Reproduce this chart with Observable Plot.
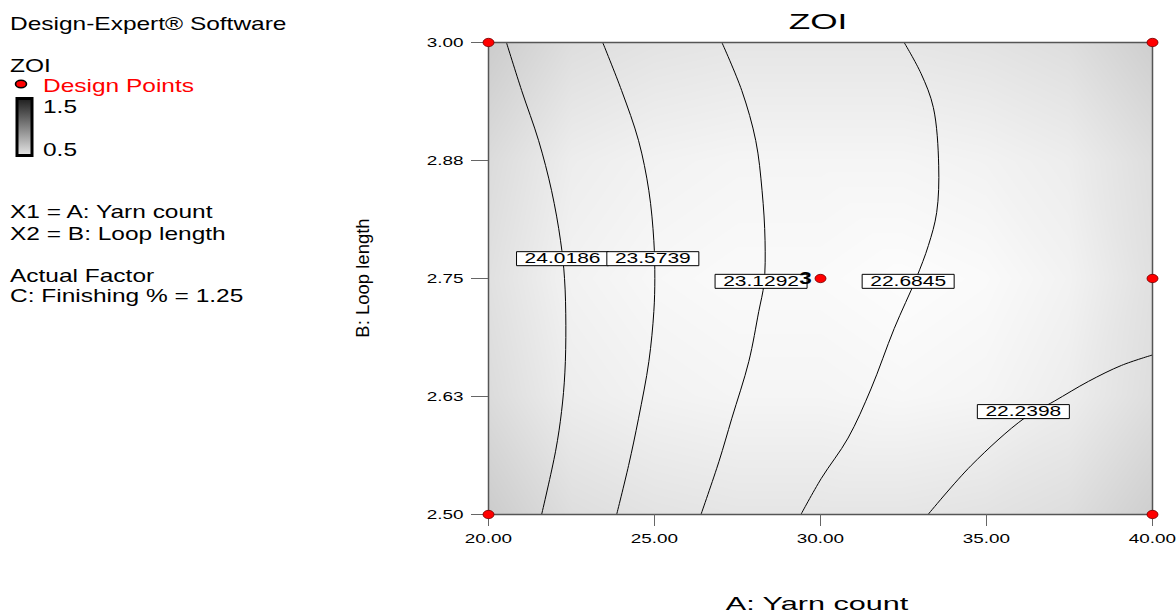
<!DOCTYPE html>
<html>
<head>
<meta charset="utf-8">
<script src="https://cdn.jsdelivr.net/npm/d3@7"></script>
<script src="https://cdn.jsdelivr.net/npm/@observablehq/plot@0.6"></script>
<style>
  html, body { margin: 0; padding: 0; background: #ffffff; }
  #chart { position: relative; width: 1176px; height: 614px; overflow: hidden; }
</style>
</head>
<body>
<div id="chart"></div>
<script>
// ---------- Data ----------
// Axis ticks
const xTicks = [20, 25, 30, 35, 40];
const xTickLabels = ["20.00", "25.00", "30.00", "35.00", "40.00"];
const yTicks = [2.5, 2.625, 2.75, 2.875, 3.0];
const yTickLabels = ["2.50", "2.63", "2.75", "2.88", "3.00"];

// Design points (A: Yarn count, B: Loop length)
const designA = [20, 20, 40, 40, 40, 30];
const designB = [2.5, 3.0, 2.5, 3.0, 2.75, 2.75];
const designReps = ["", "", "", "", "", "3"];

// Contour levels and their traced paths
const contourLevels = ["24.0186", "23.5739", "23.1292", "22.6845", "22.2398"];
const contour1A = [20.54, 21.00, 21.51, 21.90, 22.17, 22.29, 22.33, 22.30, 22.20, 22.02, 21.60];
const contour1B = [3.000, 2.949, 2.896, 2.843, 2.790, 2.750, 2.700, 2.650, 2.609, 2.567, 2.500];
const contour2A = [23.44, 24.01, 24.52, 24.83, 24.98, 25.01, 24.98, 24.83, 24.52, 24.22, 23.86];
const contour2B = [3.000, 2.949, 2.896, 2.843, 2.790, 2.750, 2.715, 2.662, 2.602, 2.552, 2.500];
const contour3A = [27.03, 27.63, 28.05, 28.24, 28.33, 28.30, 28.14, 27.84, 27.33, 26.94, 26.40];
const contour3B = [3.000, 2.949, 2.896, 2.843, 2.790, 2.745, 2.715, 2.662, 2.602, 2.556, 2.500];
const contour4A = [32.52, 33.03, 33.40, 33.56, 33.50, 33.25, 32.88, 32.22, 31.52, 30.83, 30.02, 29.41];
const contour4B = [3.000, 2.967, 2.931, 2.870, 2.820, 2.785, 2.750, 2.697, 2.633, 2.581, 2.538, 2.500];
const contour5A = [33.24, 34.54, 36.14, 37.04, 38.07, 39.07, 40.00];
const contour5B = [2.500, 2.552, 2.602, 2.620, 2.641, 2.658, 2.669];

// Contour label anchors (data units)
const labelA = [22.23, 24.95, 28.21, 32.64, 36.11];
const labelB = [2.771, 2.771, 2.747, 2.747, 2.609];

// Standard-error style shading (legend scale 0.5 .. 1.5), estimated on a grid
const shadeA = [20, 22.5, 25, 27.5, 30, 32.5, 35, 37.5, 40];
const shadeB = [2.5, 2.625, 2.75, 2.875, 3.0];
const shadeRow0 = [0.70, 0.63, 0.61, 0.60, 0.60, 0.60, 0.61, 0.63, 0.69]; // B = 2.5
const shadeRow1 = [0.64, 0.57, 0.55, 0.54, 0.54, 0.53, 0.54, 0.57, 0.63]; // B = 2.625
const shadeRow2 = [0.62, 0.55, 0.53, 0.52, 0.52, 0.51, 0.52, 0.55, 0.62]; // B = 2.75
const shadeRow3 = [0.64, 0.57, 0.55, 0.54, 0.54, 0.54, 0.55, 0.57, 0.63]; // B = 2.875
const shadeRow4 = [0.70, 0.63, 0.61, 0.60, 0.60, 0.60, 0.61, 0.63, 0.69]; // B = 3.0

// ---------- Build tables ----------
const contourAs = [contour1A, contour2A, contour3A, contour4A, contour5A];
const contourBs = [contour1B, contour2B, contour3B, contour4B, contour5B];
const contourTable = contourAs.flatMap((as, k) =>
  as.map((a, i) => ({A: a, B: contourBs[k][i], level: contourLevels[k]})));
const labelTable = contourLevels.map((t, i) => ({A: labelA[i], B: labelB[i], text: t}));
const designTable = designA.map((a, i) => ({A: a, B: designB[i], reps: designReps[i]}));
const shadeRows = [shadeRow0, shadeRow1, shadeRow2, shadeRow3, shadeRow4];
const shadeTable = shadeB.flatMap((b, j) => shadeA.map((a, i) => ({A: a, B: b, v: shadeRows[j][i]})));

// Custom symbols
const ellipseSymbol = {
  draw(ctx) {
    const rx = 5.5, ry = 4.2, k = 0.5523;
    ctx.moveTo(rx, 0);
    ctx.bezierCurveTo(rx, k * ry, k * rx, ry, 0, ry);
    ctx.bezierCurveTo(-k * rx, ry, -rx, k * ry, -rx, 0);
    ctx.bezierCurveTo(-rx, -k * ry, -k * rx, -ry, 0, -ry);
    ctx.bezierCurveTo(k * rx, -ry, rx, -k * ry, rx, 0);
    ctx.closePath();
  }
};
const boxSymbol = {
  draw(ctx) {
    ctx.moveTo(-46, -7);
    ctx.lineTo(46, -7);
    ctx.lineTo(46, 7);
    ctx.lineTo(-46, 7);
    ctx.closePath();
  }
};

const FONT = "'Liberation Sans', Arial, sans-serif";
const STRETCH = 1.4;

const svg = Plot.plot({
  width: 1176,
  height: 614,
  marginLeft: 488,
  marginRight: 24,
  marginTop: 42,
  marginBottom: 100,
  style: {fontFamily: FONT, background: "white", color: "black"},
  x: {domain: [20, 40]},
  y: {domain: [2.5, 3.0]},
  color: {type: "linear", domain: [0.5, 1.5], range: ["#ffffff", "#000000"]},
  marks: [
    Plot.raster(shadeTable, {x: "A", y: "B", fill: "v", interpolate: "barycentric"}),
    Plot.line(contourTable, {x: "A", y: "B", z: "level", curve: "catmull-rom", stroke: "black", strokeWidth: 1, clip: true}),
    Plot.frame({stroke: "#555", strokeWidth: 1.5}),
    Plot.axisX({ticks: xTicks, tickFormat: d => xTickLabels[xTicks.indexOf(d)], tickSize: 12, tickPadding: 7,
      stroke: "#666", fontSize: 13.5, label: null}),
    Plot.axisY({ticks: yTicks, tickFormat: d => yTickLabels[yTicks.indexOf(d)], tickSize: 17, tickPadding: 8,
      stroke: "#666", fontSize: 13.5, label: null}),
    Plot.dot(labelTable, {x: "A", y: "B", symbol: boxSymbol, fill: "white", stroke: "black", strokeWidth: 1}),
    Plot.text(labelTable, {x: "A", y: "B", text: "text", fontSize: 15, fill: "black"}),
    Plot.dot(designTable, {x: "A", y: "B", symbol: ellipseSymbol, fill: "#ff0000", stroke: "#700000", strokeWidth: 0.8}),
    Plot.text(designTable, {x: "A", y: "B", text: "reps", dx: -15, dy: 0, fontSize: 16, fontWeight: "bold", fill: "black"})
  ]
});

// Horizontal stretch of the text, as in the reference
svg.querySelectorAll("text").forEach(t => {
  const tr = t.getAttribute("transform") || "";
  const m = tr.match(/translate\(([^,\s)]+)[,\s]+([^)]+)\)(.*)/);
  if (m) {
    t.setAttribute("transform", `translate(${m[1]},${m[2]}) scale(${STRETCH},1)${m[3]}`);
  } else {
    const x = +(t.getAttribute("x") || 0);
    t.setAttribute("transform", `translate(${x},0) scale(${STRETCH},1) translate(${-x},0)`);
  }
});

// ---------- Title, axis labels, and the side panel ----------
const s = d3.select(svg);
function addText(str, x, y, opts = {}) {
  const t = s.append("text")
    .attr("transform", `translate(${x},${y}) scale(${opts.sx ?? STRETCH},1)${opts.rotate ? ` rotate(${opts.rotate})` : ""}`)
    .attr("font-family", FONT)
    .attr("font-size", opts.size ?? 17.5)
    .attr("fill", opts.fill ?? "black")
    .attr("text-anchor", opts.anchor ?? "start")
    .text(str);
  return t;
}
addText("ZOI", 818, 29, {size: 22, anchor: "middle", sx: 1.6});
addText("A: Yarn count", 817, 610, {size: 18, anchor: "middle", sx: 1.7});
addText("B: Loop length", 369, 278, {size: 18.5, anchor: "middle", sx: 1, rotate: -90});

addText("Design-Expert® Software", 10, 30);
addText("ZOI", 10, 72);
addText("Design Points", 43, 92, {fill: "#ff0000"});
addText("1.5", 43, 113);
addText("0.5", 43, 156);
addText("X1 = A: Yarn count", 10, 218);
addText("X2 = B: Loop length", 10, 240);
addText("Actual Factor", 10, 282);
addText("C: Finishing % = 1.25", 10, 302);

// legend marker and gradient bar
const defs = s.append("defs");
const grad = defs.append("linearGradient").attr("id", "seGrad").attr("x1", 0).attr("y1", 0).attr("x2", 0).attr("y2", 1);
grad.append("stop").attr("offset", "0%").attr("stop-color", "#1e1e1e");
grad.append("stop").attr("offset", "100%").attr("stop-color", "#e6e6e6");
s.append("rect").attr("x", 17).attr("y", 98.5).attr("width", 15).attr("height", 57)
  .attr("fill", "url(#seGrad)").attr("stroke", "black").attr("stroke-width", 3);
s.append("ellipse").attr("cx", 21).attr("cy", 84).attr("rx", 5.5).attr("ry", 3.8)
  .attr("fill", "#ff0000").attr("stroke", "black").attr("stroke-width", 1.6);

document.getElementById("chart").appendChild(svg);
</script>
</body>
</html>
